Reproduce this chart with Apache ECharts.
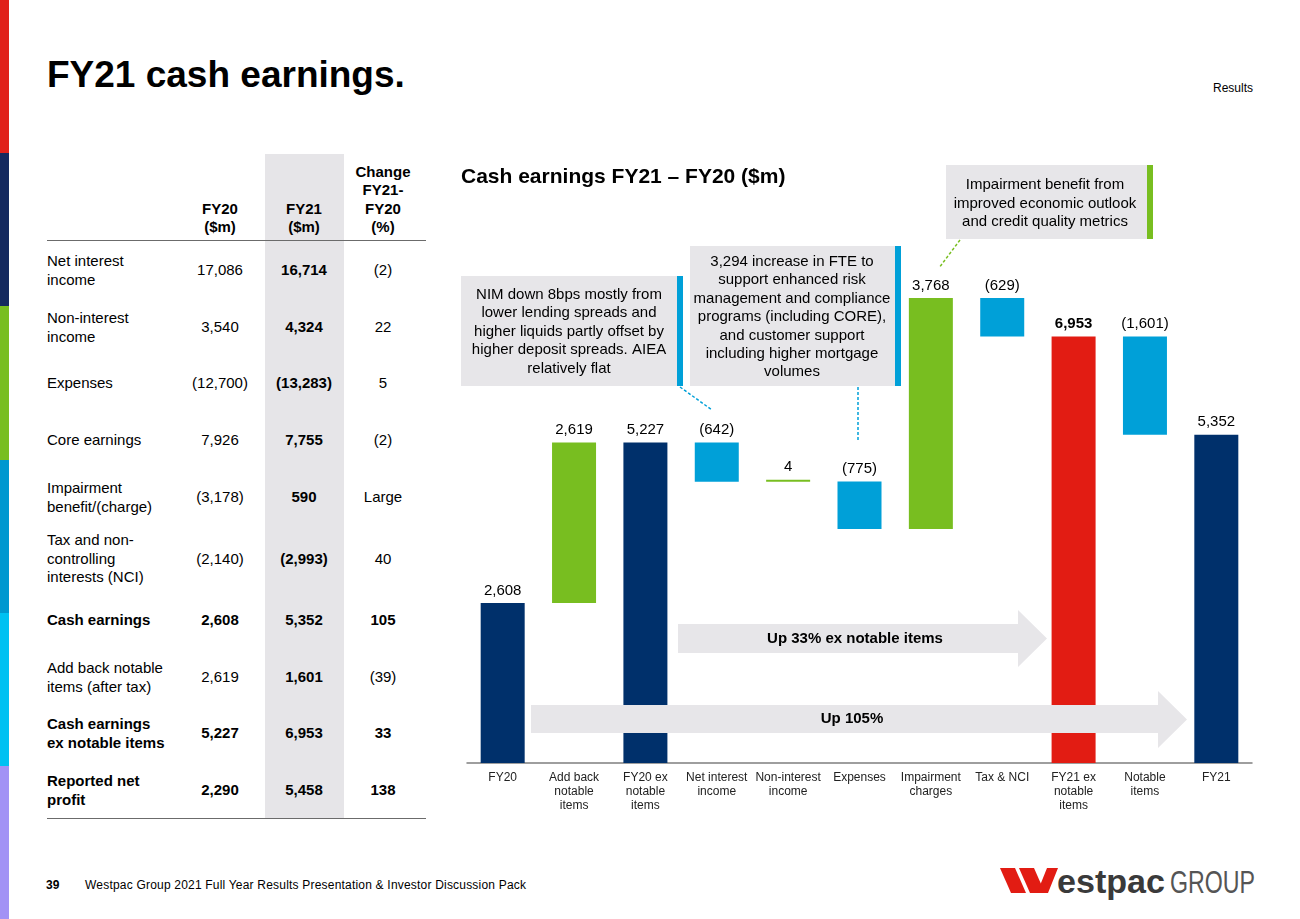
<!DOCTYPE html>
<html><head><meta charset="utf-8">
<script src="https://cdn.jsdelivr.net/npm/echarts@6/dist/echarts.min.js"></script>
<style>
html,body{margin:0;padding:0}
body{width:1300px;height:919px;overflow:hidden;background:#fff;font-family:'Liberation Sans',Arial,sans-serif;color:#000;position:relative}
.abs{position:absolute}
.stripe{position:absolute;left:0;width:9px}
.cell{position:absolute;font-size:15px;line-height:18.5px;transform:translateY(-50%);white-space:nowrap}
.num{width:90px;text-align:center}
.hdr{position:absolute;font-size:15px;line-height:18.5px;font-weight:bold;text-align:center;width:90px}
</style></head><body>
<div id="frame"></div>
<div id="chart" style="position:absolute;left:0;top:0;width:1300px;height:919px"></div>
<script>
// ---------- DATA ----------
const categories = ['FY20','Add back\nnotable\nitems','FY20 ex\nnotable\nitems','Net interest\nincome','Non-interest\nincome','Expenses','Impairment\ncharges','Tax & NCI','FY21 ex\nnotable\nitems','Notable\nitems','FY21'];
const values = [2608, 2619, 5227, -642, 4, -775, 3768, -629, 6953, -1601, 5352];
const isTotal = [true, false, true, false, false, false, false, false, true, false, true];

const tableLabels = ['Net interest\nincome','Non-interest\nincome','Expenses','Core earnings','Impairment\nbenefit/(charge)','Tax and non-\ncontrolling\ninterests (NCI)','Cash earnings','Add back notable\nitems (after tax)','Cash earnings\nex notable items','Reported net\nprofit'];
const tableFY20 = ['17,086','3,540','(12,700)','7,926','(3,178)','(2,140)','2,608','2,619','5,227','2,290'];
const tableFY21 = ['16,714','4,324','(13,283)','7,755','590','(2,993)','5,352','1,601','6,953','5,458'];
const tableChange = ['(2)','22','5','(2)','Large','40','105','(39)','33','138'];
const tableBoldRows = [false,false,false,false,false,false,true,false,true,true];
const tableHeaders = ['FY20\n($m)','FY21\n($m)','Change\nFY21-\nFY20\n(%)'];

const noteNIM = 'NIM down 8bps mostly from\nlower lending spreads and\nhigher liquids partly offset by\nhigher deposit spreads. AIEA\nrelatively flat';
const noteFTE = '3,294 increase in FTE to\nsupport enhanced risk\nmanagement and compliance\nprograms (including CORE),\nand customer support\nincluding higher mortgage\nvolumes';
const noteImp = 'Impairment benefit from\nimproved economic outlook\nand credit quality metrics';
const arrowText1 = 'Up 33% ex notable items';
const arrowText2 = 'Up 105%';

// ---------- LAYOUT / STYLE ----------
const FONT = "'Liberation Sans', Arial, sans-serif";
const NAVY = '#00306B', GREEN = '#78BE20', BLUE = '#00A0D8', RED = '#E21C13', GREYBOX = '#E7E6E9';
const rowCenters = [270, 327, 383, 440, 497, 559, 620, 677, 733, 790];
const colCenters = [220, 304, 383];

// ---------- SLIDE FRAME (HTML) ----------
const frame = document.getElementById('frame');
let h = '';
const stripes = ['#E1211A','#14295F','#78BE21','#0098D0','#00C1F2','#A292F5'];
stripes.forEach((c,i)=>{ h += `<div class="stripe" style="top:${i*153.2}px;height:154px;background:${c}"></div>`; });
h += `<div class="abs" style="left:47px;top:53px;font-size:37px;line-height:44px;font-weight:bold">FY21 cash earnings.</div>`;
h += `<div class="abs" style="right:47px;top:81px;font-size:12px;line-height:14px">Results</div>`;
// table
h += `<div class="abs" style="left:265px;top:154px;width:79px;height:665px;background:#E6E5E8"></div>`;
h += `<div class="abs" style="left:47px;top:239.5px;width:379px;height:1.5px;background:#6b6b6b"></div>`;
h += `<div class="abs" style="left:47px;top:817.5px;width:379px;height:1.5px;background:#6b6b6b"></div>`;
tableHeaders.forEach((t,i)=>{
  const n = t.split('\n').length;
  h += `<div class="hdr" style="left:${colCenters[i]-45}px;top:${236.5-n*18.5}px">${t.replace(/\n/g,'<br>')}</div>`;
});
tableLabels.forEach((t,i)=>{
  const fw = tableBoldRows[i] ? 'bold' : 'normal';
  const y = rowCenters[i];
  h += `<div class="cell" style="left:47px;top:${y}px;font-weight:${fw}">${t.replace(/\n/g,'<br>')}</div>`;
  h += `<div class="cell num" style="left:${colCenters[0]-45}px;top:${y}px;font-weight:${fw}">${tableFY20[i]}</div>`;
  h += `<div class="cell num" style="left:${colCenters[1]-45}px;top:${y}px;font-weight:bold">${tableFY21[i]}</div>`;
  h += `<div class="cell num" style="left:${colCenters[2]-45}px;top:${y}px;font-weight:${fw}">${tableChange[i]}</div>`;
});
// footer
h += `<div class="abs" style="left:46px;top:878px;font-size:12px;line-height:14px;font-weight:bold">39</div>`;
h += `<div class="abs" style="left:85px;top:878px;font-size:12px;line-height:14px;letter-spacing:0.2px">Westpac Group 2021 Full Year Results Presentation &amp; Investor Discussion Pack</div>`;
h += `<svg class="abs" style="left:995px;top:862px" width="270" height="40" viewBox="0 0 270 40">
  <polygon points="5,6 20,6 31,31 16,31" fill="#E21C13"/>
  <polygon points="24,6 39,6 50,31 35,31" fill="#E21C13"/>
  <polygon points="42,31 52,6 63,6 53,31" fill="#E21C13"/>
  <text x="62" y="31" font-family="Liberation Sans, Arial" font-weight="bold" font-size="33" fill="#3a3a3a" textLength="108" lengthAdjust="spacingAndGlyphs">estpac</text>
  <text x="175" y="31" font-family="Liberation Sans, Arial" font-size="31" fill="#555" textLength="85" lengthAdjust="spacingAndGlyphs">GROUP</text>
</svg>`;
frame.innerHTML = h;

// ---------- WATERFALL ----------
const fmt = v => { const s = Math.abs(v).toLocaleString('en-US'); return v < 0 ? '(' + s + ')' : s; };
const base = [], heights = [];
let running = 0;
values.forEach((v,i)=>{
  if (isTotal[i]) { base.push(0); heights.push(v); running = v; }
  else if (v >= 0) { base.push(running); heights.push(v); running += v; }
  else { running += v; base.push(running); heights.push(-v); }
});
const colorFor = i => isTotal[i] ? (i === 8 ? RED : NAVY) : (values[i] >= 0 ? GREEN : BLUE);

const chart = echarts.init(document.getElementById('chart'), null, {renderer:'canvas'});
const txt = (text, x, y, opt={}) => ({
  type:'text', z: opt.z || 110,
  style:{text, x, y, align:'center', verticalAlign:'middle', fill:'#000',
    font:(opt.bold?'bold ':'') + (opt.size||15) + 'px ' + FONT, lineHeight: opt.lh || 18.5}
});
const rect = (x,y,w,hh,fill,z) => ({type:'rect', z: z||100, shape:{x,y,width:w,height:hh}, style:{fill}});
const dline = (x1,y1,x2,y2,stroke) => ({type:'line', z:100, shape:{x1,y1,x2,y2}, style:{stroke, lineWidth:1.5, lineDash:[3,2]}});
const arrow = (x0,x1,xh,yt,yb,ht,hb) => ({type:'polygon', z:100,
  shape:{points:[[x0,yt],[xh,yt],[xh,ht],[x1,(ht+hb)/2],[xh,hb],[xh,yb],[x0,yb]]}, style:{fill:GREYBOX}});

chart.setOption({
  backgroundColor:'transparent',
  animation:false,
  grid:{left:467, right:48, top:211, bottom:156},
  xAxis:{type:'category', data:categories,
    axisLine:{lineStyle:{color:'#7f7f7f', width:1.5}}, axisTick:{show:false},
    axisLabel:{interval:0, fontSize:12, lineHeight:14, margin:8, color:'#222', fontFamily:FONT}},
  yAxis:{type:'value', min:0, max:9000, show:false, splitLine:{show:false}},
  series:[
    {type:'bar', stack:'w', data:base, barWidth:44, silent:true, itemStyle:{color:'rgba(0,0,0,0)'}},
    {type:'bar', stack:'w', barWidth:44, barMinHeight:2, silent:true,
      data:heights.map((v,i)=>({value:v, itemStyle:{color:colorFor(i)},
        label: i===8 ? {fontWeight:'bold'} : {} })),
      label:{show:true, position:'top', distance:5, fontSize:15, color:'#000', fontFamily:FONT,
        formatter:p=>fmt(values[p.dataIndex])}}
  ],
  graphic:{elements:[
    {type:'text', z:110, style:{text:'Cash earnings FY21 – FY20 ($m)', x:461, y:177, align:'left', verticalAlign:'middle', fill:'#000', font:'bold 21px ' + FONT}},
    // NIM note
    rect(461,276,216,110,GREYBOX), rect(677,276,6,110,BLUE),
    txt(noteNIM, 569, 331.5),
    dline(680,387,712,410,BLUE),
    // FTE note
    rect(690,246,205,140,GREYBOX), rect(895,246,6,140,BLUE),
    txt(noteFTE, 792, 317, {lh:18.4}),
    dline(858,387,858,442,BLUE),
    // Impairment note
    rect(946,165,201,74,GREYBOX), rect(1147,165,6,74,GREEN),
    txt(noteImp, 1045, 203.5),
    dline(960,240,939,268,GREEN),
    // arrows
    arrow(678,1047,1018,624,653,610,667),
    txt(arrowText1, 855, 638.5, {bold:true}),
    arrow(531,1187,1158,705,733,691,748),
    txt(arrowText2, 852, 719, {bold:true})
  ]}
});
</script>
</body></html>
